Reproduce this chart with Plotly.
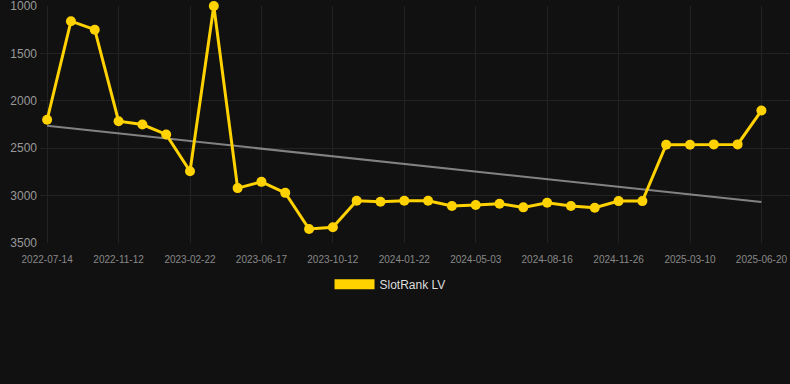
import numpy as np
import plotly.graph_objects as go

dates = ["2022-07-14", "2022-08-24", "2022-10-03", "2022-11-12", "2022-12-16", "2023-01-19",
         "2023-02-22", "2023-04-01", "2023-05-09", "2023-06-17", "2023-07-26", "2023-09-03",
         "2023-10-12", "2023-11-15", "2023-12-19", "2024-01-22", "2024-02-25", "2024-03-30",
         "2024-05-03", "2024-06-07", "2024-07-12", "2024-08-16", "2024-09-19", "2024-10-23",
         "2024-11-26", "2024-12-30", "2025-02-03", "2025-03-10", "2025-04-13", "2025-05-17",
         "2025-06-20"]
rank = [2200, 1160, 1250, 2215, 2250, 2355, 2743, 1000, 2921, 2855, 2971, 3352, 3334, 3055,
        3065, 3055, 3055, 3110, 3100, 3086, 3124, 3076, 3110, 3128, 3058, 3058, 2463, 2463,
        2460, 2460, 2103]
tick_labels = dates[::3]
series_name = "SlotRank LV"

idx = np.arange(len(rank))
slope, intercept = np.polyfit(idx, rank, 1)
trend = slope * idx + intercept

gold = "#FFD200"
fig = go.Figure()
fig.add_trace(go.Scatter(x=dates, y=trend, mode="lines", showlegend=False,
                         line=dict(color="rgba(150,150,150,0.85)", width=2), hoverinfo="skip"))
fig.add_trace(go.Scatter(x=dates, y=rank, mode="lines+markers", showlegend=False,
                         line=dict(color=gold, width=3), marker=dict(color=gold, size=10),
                         cliponaxis=False))
fig.add_trace(go.Scatter(x=[None], y=[None], mode="lines", name=series_name,
                         line=dict(color=gold, width=10)))

fig.update_layout(
    width=790, height=384,
    paper_bgcolor="#111111", plot_bgcolor="#111111",
    margin=dict(l=40, r=0, t=6, b=141, autoexpand=False),
    font=dict(family="Liberation Sans, Arial, sans-serif", color="#999999"),
    xaxis=dict(type="category", range=[-0.3, 31.2], tickmode="array",
               tickvals=tick_labels, ticktext=tick_labels, automargin=False,
               showgrid=True, gridcolor="#222222", gridwidth=1,
               tickfont=dict(size=10, color="#888888"), zeroline=False,
               showline=False, ticks="", ticklabelstandoff=9, ticklabeloverflow="allow"),
    yaxis=dict(range=[3500, 1000], tickvals=[1000, 1500, 2000, 2500, 3000, 3500],
               showgrid=True, gridcolor="#222222", gridwidth=1, automargin=False,
               tickfont=dict(size=12, color="#999999"), zeroline=False, ticks="",
               ticklabelstandoff=2, ticklabeloverflow="allow"),
    legend=dict(orientation="h", x=0.4667, xanchor="center", y=-0.113, yanchor="top",
                font=dict(size=12, color="#dddddd"), itemwidth=40),
    showlegend=True,
)

fig.write_html("out.html", config={"displayModeBar": False},
               post_script="document.body.style.margin='0px';document.body.style.background='#111111';")
